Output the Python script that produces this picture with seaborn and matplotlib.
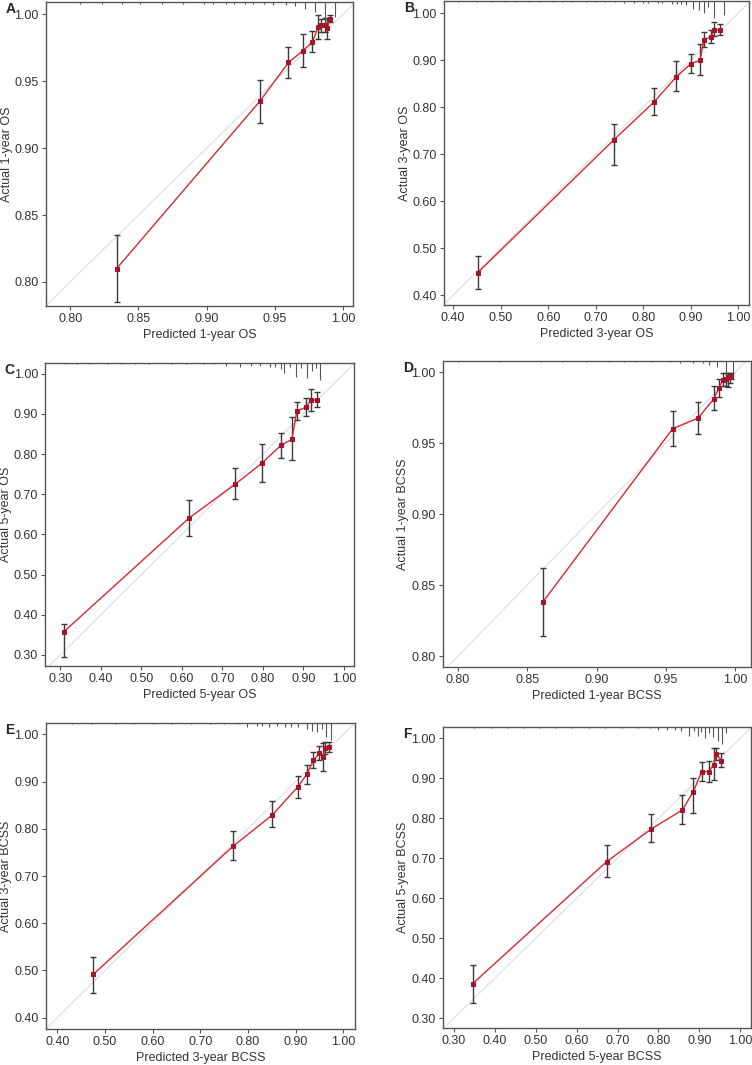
import numpy as np
import pandas as pd
import seaborn as sns
import matplotlib.pyplot as plt
from matplotlib.ticker import FormatStrFormatter
import matplotlib.transforms as mtransforms

# ---- panel A: 1-year OS ----
a_pred = [0.834, 0.939, 0.960, 0.9705, 0.9776, 0.9817, 0.9837, 0.9868, 0.9883, 0.9907]
a_obs = [0.810, 0.935, 0.964, 0.9728, 0.9793, 0.9905, 0.992, 0.992, 0.9895, 0.9965]
a_lo = [0.785, 0.9187, 0.9524, 0.9606, 0.9718, 0.9818, 0.9868, 0.987, 0.9818, 0.994]
a_hi = [0.8352, 0.9511, 0.9756, 0.9855, 0.9873, 0.9998, 0.9968, 0.997, 0.997, 0.9995]
a_rug_x = [0.807, 0.823, 0.838, 0.851, 0.867, 0.883, 0.898, 0.905, 0.914, 0.920,
           0.928, 0.934, 0.942, 0.949, 0.958, 0.965, 0.972, 0.9795, 0.9868, 0.9941]
a_rug_n = [2, 2, 2, 2, 2, 2, 2, 2, 2, 2, 2, 2, 2, 3, 3, 4, 7, 11, 18, 16]

# ---- panel B: 3-year OS ----
b_pred = [0.4512, 0.7384, 0.8226, 0.8696, 0.8998, 0.9195, 0.9279, 0.9433, 0.9497, 0.9616]
b_obs = [0.4474, 0.7307, 0.8106, 0.8643, 0.8919, 0.8996, 0.9435, 0.9498, 0.964, 0.964]
b_lo = [0.412, 0.6777, 0.7838, 0.8339, 0.8728, 0.8679, 0.9279, 0.9357, 0.9505, 0.9527]
b_hi = [0.4834, 0.764, 0.8403, 0.8975, 0.9124, 0.935, 0.9604, 0.9647, 0.9816, 0.976]
b_rug_x = [0.41, 0.45, 0.48, 0.51, 0.53, 0.56, 0.58, 0.61, 0.63, 0.65, 0.68, 0.70,
           0.72, 0.74, 0.76, 0.78, 0.80, 0.81, 0.83, 0.84, 0.86, 0.87, 0.88, 0.89,
           0.904, 0.918, 0.928, 0.936, 0.948, 0.969]
b_rug_n = [1, 1, 1, 1, 1, 1, 1, 1, 1, 1, 1, 1, 1, 1, 2, 2, 2, 2, 2, 2, 3, 3, 3, 4,
           8, 9, 11, 6, 16, 13]

# ---- panel C: 5-year OS ----
c_pred = [0.308, 0.618, 0.7323, 0.798, 0.8443, 0.8715, 0.8839, 0.906, 0.9176, 0.934]
c_obs = [0.357, 0.641, 0.7256, 0.7778, 0.8217, 0.8366, 0.9079, 0.9162, 0.9336, 0.9353]
c_lo = [0.294, 0.597, 0.6883, 0.7306, 0.791, 0.7844, 0.8848, 0.8947, 0.9079, 0.917]
c_hi = [0.378, 0.685, 0.7654, 0.8259, 0.8535, 0.8921, 0.9303, 0.9386, 0.961, 0.955]
c_rug_x = [0.311, 0.34, 0.37, 0.414, 0.45, 0.484, 0.52, 0.574, 0.61, 0.652, 0.68,
           0.71, 0.743, 0.77, 0.792, 0.817, 0.83, 0.844, 0.852, 0.866, 0.881, 0.895,
           0.909, 0.920, 0.930, 0.941]
c_rug_n = [1, 1, 1, 1, 1, 1, 1, 1, 1, 1, 1, 2, 3, 2, 2, 3, 3, 5, 9, 3, 12, 4, 13, 7, 4, 15]

# ---- panel D: 1-year BCSS ----
d_pred = [0.8613, 0.955, 0.9733, 0.9846, 0.9882, 0.9911, 0.9935, 0.9952, 0.9964, 0.9974]
d_obs = [0.8381, 0.9603, 0.9678, 0.9812, 0.9887, 0.9946, 0.9953, 0.9965, 0.9969, 0.9976]
d_lo = [0.8139, 0.9478, 0.9563, 0.9732, 0.9824, 0.9904, 0.9906, 0.9894, 0.9927, 0.995]
d_hi = [0.8623, 0.9727, 0.9791, 0.9901, 0.9955, 0.9993, 0.9998, 0.9998, 0.9998, 0.9998]
d_rug_x = [0.80, 0.83, 0.86, 0.875, 0.8926, 0.909, 0.92, 0.9287, 0.94, 0.9527, 0.96,
           0.9696, 0.9765, 0.9813, 0.9873, 0.9936, 0.9985]
d_rug_n = [1, 1, 1, 1, 1, 1, 1, 1, 1, 1, 2, 2, 2, 3, 5, 11, 14]

# ---- panel E: 3-year BCSS ----
e_pred = [0.4755, 0.7692, 0.851, 0.9049, 0.9238, 0.937, 0.9497, 0.9573, 0.9615, 0.9706]
e_obs = [0.4918, 0.7635, 0.8292, 0.8892, 0.916, 0.945, 0.9598, 0.9527, 0.9704, 0.9732]
e_lo = [0.453, 0.7339, 0.803, 0.8645, 0.8955, 0.9294, 0.945, 0.9224, 0.9584, 0.9633]
e_hi = [0.5292, 0.796, 0.8588, 0.9125, 0.9358, 0.9633, 0.976, 0.9824, 0.983, 0.983]
e_rug_x = [0.43, 0.47, 0.52, 0.56, 0.60, 0.64, 0.68, 0.72, 0.75, 0.78, 0.797, 0.818,
           0.83, 0.845, 0.86, 0.877, 0.89, 0.905, 0.923, 0.934, 0.944, 0.955, 0.964,
           0.9735]
e_rug_n = [1, 1, 1, 1, 1, 1, 1, 1, 1, 1, 3, 2, 2, 3, 2, 3, 3, 3, 5, 7, 8, 5, 12, 15]

# ---- panel F: 5-year BCSS ----
f_pred = [0.3464, 0.6736, 0.7827, 0.8584, 0.8852, 0.9056, 0.9227, 0.9349, 0.9414, 0.9536]
f_obs = [0.3867, 0.6917, 0.7733, 0.8208, 0.8667, 0.9167, 0.9167, 0.9333, 0.960, 0.9442]
f_lo = [0.3392, 0.6542, 0.740, 0.7858, 0.8133, 0.8933, 0.890, 0.895, 0.9458, 0.9275]
f_hi = [0.4325, 0.7333, 0.810, 0.8583, 0.900, 0.9417, 0.9442, 0.975, 0.975, 0.9642]
f_rug_x = [0.35, 0.39, 0.43, 0.47, 0.51, 0.55, 0.59, 0.63, 0.67, 0.71, 0.75, 0.78,
           0.80, 0.82, 0.84, 0.855, 0.8755, 0.886, 0.896, 0.905, 0.9146, 0.9244,
           0.934, 0.945, 0.9546, 0.965]
f_rug_n = [1, 1, 1, 1, 1, 1, 1, 1, 1, 1, 1, 1, 2, 2, 2, 3, 7, 3, 7, 4, 9, 5, 8, 12, 14, 5]

sns.set_style("ticks")
plt.rcParams['font.family'] = ['Liberation Sans', 'DejaVu Sans']

LINE_RED = '#d6282e'
MARK_RED = '#a5142a'
FRAME = '#555555'


def draw_panel(ax, letter, pred, obs, lo, hi, rug_x, rug_n, xlim, ylim, ticks,
               xlabel, ylabel):
    df = pd.DataFrame({'pred': pred, 'obs': obs})
    # ideal line
    ax.plot([0, 1.1], [0, 1.1], color='#dedede', lw=0.8, zorder=1)
    # error bars
    obs_a = np.array(obs)
    ax.errorbar(pred, obs, yerr=[obs_a - np.array(lo), np.array(hi) - obs_a],
                fmt='none', ecolor='#3a3a3a', elinewidth=1, capsize=2.5,
                capthick=1, zorder=2)
    sns.lineplot(data=df, x='pred', y='obs', ax=ax, color=LINE_RED, lw=1,
                 marker='s', markersize=3, markerfacecolor=MARK_RED,
                 markeredgecolor=MARK_RED, sort=False, zorder=3)
    # spike histogram of predictions along top edge
    trans = mtransforms.blended_transform_factory(ax.transData, ax.transAxes)
    n = np.array(rug_n, dtype=float)
    ax.vlines(rug_x, 1 - n / n.max() * 0.055, 1, transform=trans,
              color='#555555', lw=0.8, zorder=2)

    ax.set_xlim(xlim)
    ax.set_ylim(ylim)
    ax.set_xticks(ticks)
    ax.set_yticks(ticks)
    ax.xaxis.set_major_formatter(FormatStrFormatter('%.2f'))
    ax.yaxis.set_major_formatter(FormatStrFormatter('%.2f'))
    ax.tick_params(labelsize=9, length=3, width=0.8, color=FRAME,
                   labelcolor='#333333', pad=2)
    for s in ax.spines.values():
        s.set_color(FRAME)
        s.set_linewidth(1)
        s.set_visible(True)
    ax.set_xlabel(xlabel, fontsize=9, color='#333333', labelpad=3)
    ax.set_ylabel(ylabel, fontsize=9, color='#333333')
    ax.yaxis.set_label_coords(-0.108, 0.5)
    ax.text(-0.13, 1.0, letter, transform=ax.transAxes, fontsize=10,
            fontweight='bold', va='top', ha='left')


fig = plt.figure(figsize=(7.52, 10.65), dpi=100)

ticks_a = [0.80, 0.85, 0.90, 0.95, 1.00]
ticks_b = [0.40, 0.50, 0.60, 0.70, 0.80, 0.90, 1.00]
ticks_c = [0.30, 0.40, 0.50, 0.60, 0.70, 0.80, 0.90, 1.00]

ax = fig.add_axes([0.0608, 0.7127, 0.4086, 0.2854])
draw_panel(ax, 'A', a_pred, a_obs, a_lo, a_hi, a_rug_x, a_rug_n,
           (0.782, 1.0073), (0.782, 1.0092), ticks_a,
           'Predicted 1-year OS', 'Actual 1-year OS')

ax = fig.add_axes([0.590, 0.7136, 0.406, 0.2854])
draw_panel(ax, 'B', b_pred, b_obs, b_lo, b_hi, b_rug_x, b_rug_n,
           (0.38, 1.0225), (0.379, 1.0254), ticks_b,
           'Predicted 3-year OS', 'Actual 3-year OS')

ax = fig.add_axes([0.0598, 0.3749, 0.4113, 0.2839])
draw_panel(ax, 'C', c_pred, c_obs, c_lo, c_hi, c_rug_x, c_rug_n,
           (0.262, 1.0255), (0.273, 1.0259), ticks_c,
           'Predicted 5-year OS', 'Actual 5-year OS')

ax = fig.add_axes([0.5887, 0.374, 0.4096, 0.287])
draw_panel(ax, 'D', d_pred, d_obs, d_lo, d_hi, d_rug_x, d_rug_n,
           (0.789, 1.0113), (0.7925, 1.008), ticks_a,
           'Predicted 1-year BCSS', 'Actual 1-year BCSS')

ax = fig.add_axes([0.0608, 0.0338, 0.4113, 0.287])
draw_panel(ax, 'E', e_pred, e_obs, e_lo, e_hi, e_rug_x, e_rug_n,
           (0.3757, 1.0245), (0.376, 1.0233), ticks_b,
           'Predicted 3-year BCSS', 'Actual 3-year BCSS')

ax = fig.add_axes([0.5887, 0.0345, 0.4096, 0.2826])
draw_panel(ax, 'F', f_pred, f_obs, f_lo, f_hi, f_rug_x, f_rug_n,
           (0.273, 1.0254), (0.275, 1.0275), ticks_c,
           'Predicted 5-year BCSS', 'Actual 5-year BCSS')

fig.savefig('out.png', dpi=100)
plt.close(fig)
